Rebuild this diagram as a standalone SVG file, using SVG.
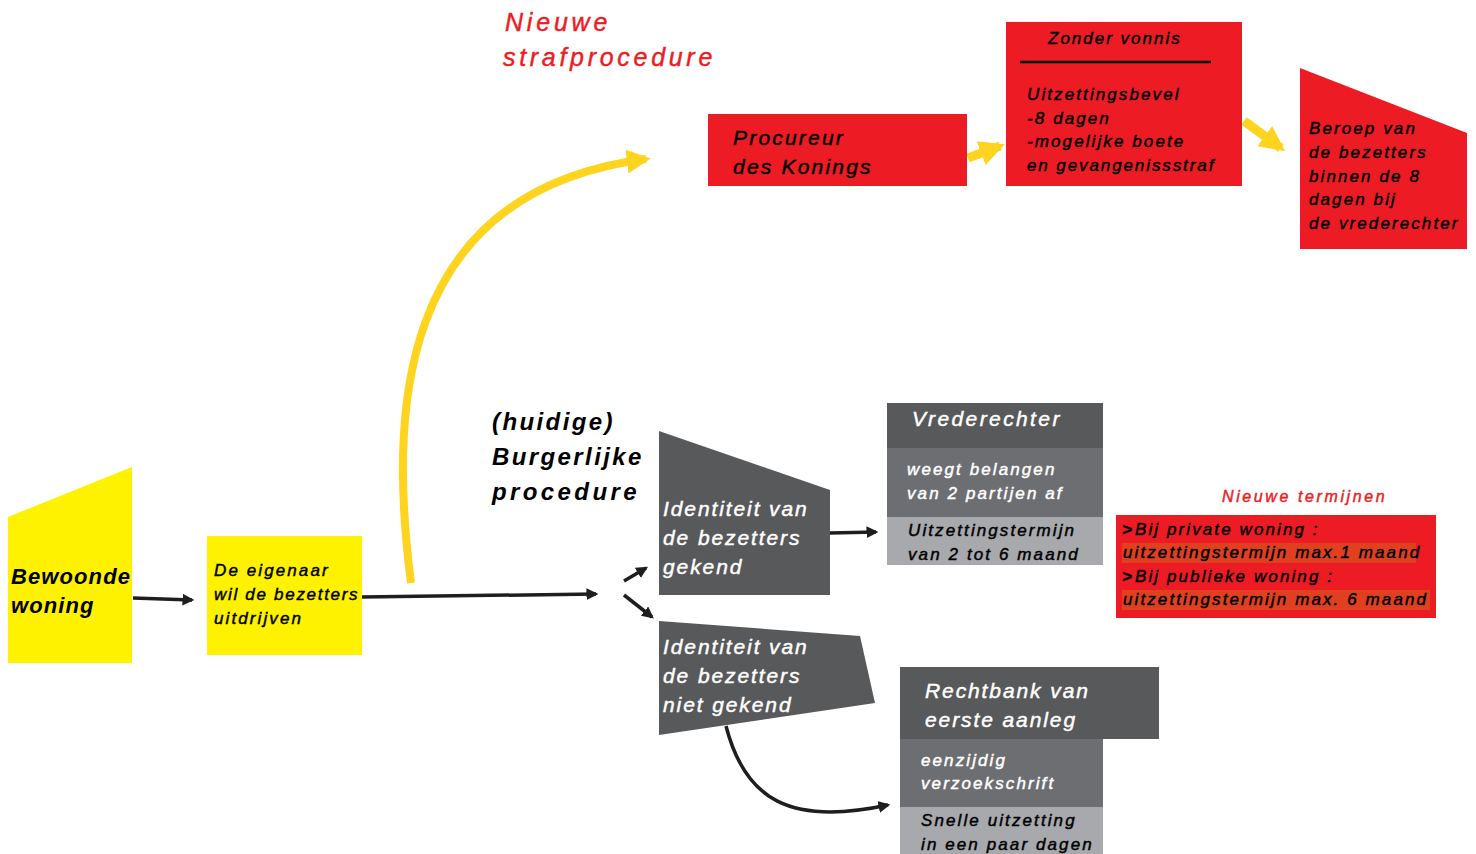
<svg xmlns="http://www.w3.org/2000/svg" width="1476" height="854" viewBox="0 0 1476 854">
<defs>
<style>
text{font-family:"Liberation Sans",Arial,sans-serif;font-style:italic;letter-spacing:2.1px;stroke-width:0.45px}
.b{fill:#000;stroke:#000}
.w{fill:#fff;stroke:#fff}
.r{fill:#ED1C24;stroke:#ED1C24}
.s17{font-size:17px}
.s21{font-size:21px;letter-spacing:1.9px}
.s24{font-size:24px;font-weight:bold;letter-spacing:2.4px;stroke-width:0}
.yel{fill:#FFF200}
.red{fill:#ED1C24}
.d1{fill:#58595B}
.d2{fill:#6D6E71}
.d3{fill:#A7A9AC}
.blk{stroke:#1E1E1E;stroke-width:3.5;fill:none}
.ycurve{stroke:#FFD41F;stroke-width:8;fill:none}
</style>
<marker id="ah" viewBox="0 0 10 10" refX="8" refY="5" markerWidth="3.4" markerHeight="3.4" orient="auto" markerUnits="strokeWidth">
<path d="M0,0 L10,5 L0,10 z" fill="#1E1E1E"/>
</marker>
<marker id="yah" viewBox="0 0 10 10" refX="8" refY="5" markerWidth="3" markerHeight="3" orient="auto" markerUnits="strokeWidth">
<path d="M0,0 L10,5 L0,10 z" fill="#FFD41F"/>
</marker>
<marker id="yah2" viewBox="0 0 10 10" refX="8" refY="5" markerWidth="2.8" markerHeight="3.2" orient="auto" markerUnits="strokeWidth">
<path d="M0,0 L10,5 L0,10 z" fill="#FFD41F"/>
</marker>
</defs>

<g id="title-straf">
<text x="505" y="31" class="r" style="font-size:25px;letter-spacing:3.8px">Nieuwe</text>
<text x="503" y="66" class="r" style="font-size:25px;letter-spacing:3.7px">strafprocedure</text>
</g>

<g id="title-burgerlijk">
<text x="492" y="430" class="b s24">(huidige)</text>
<text x="492" y="465" class="b s24">Burgerlijke</text>
<text x="492" y="500" class="b s24" style="letter-spacing:3.4px">procedure</text>
</g>

<g id="connectors">
<path class="blk" d="M133,598 L192,600" marker-end="url(#ah)"/>
<path class="blk" d="M362,597 L596,594" marker-end="url(#ah)"/>
<path class="blk" d="M624,581 L646,568" marker-end="url(#ah)"/>
<path class="blk" d="M624,595 L652,617" marker-end="url(#ah)"/>
<path class="blk" d="M830,533 L876,532" marker-end="url(#ah)"/>
<path class="blk" d="M726,726 C745,800 790,826 888,805" marker-end="url(#ah)"/>
<path class="ycurve" d="M411,583 C390,420 392,192 646,159" marker-end="url(#yah)"/>
<path class="ycurve" style="stroke-width:9" d="M968,158 L1000,146" marker-end="url(#yah2)"/>
<path class="ycurve" style="stroke-width:9" d="M1244,121 L1281,148" marker-end="url(#yah2)"/>
</g>

<g id="bewoonde-woning">
<polygon class="yel" points="8,517 132,467 132,663 8,663"/>
<text x="11" y="584" class="b" style="font-size:22px;font-weight:bold;letter-spacing:1.1px;stroke-width:0">Bewoonde</text>
<text x="11" y="613" class="b" style="font-size:22px;font-weight:bold;letter-spacing:1.1px;stroke-width:0">woning</text>
</g>

<g id="eigenaar">
<rect class="yel" x="207" y="536" width="155" height="119"/>
<text x="214" y="576" class="b s17">De eigenaar</text>
<text x="214" y="600" class="b s17" style="letter-spacing:1.7px">wil de bezetters</text>
<text x="214" y="624" class="b s17">uitdrijven</text>
</g>

<g id="procureur">
<rect class="red" x="708" y="114" width="259" height="72"/>
<text x="733" y="145" class="b s21" style="letter-spacing:2.2px">Procureur</text>
<text x="733" y="174" class="b s21" style="letter-spacing:2.2px">des Konings</text>
</g>

<g id="zonder-vonnis">
<rect class="red" x="1006" y="22" width="236" height="164"/>
<text x="1048" y="44" class="b s17" style="letter-spacing:2px">Zonder vonnis</text>
<line x1="1020" y1="62" x2="1211" y2="62" stroke="#000" stroke-width="2.5"/>
<text x="1027" y="100" class="b s17">Uitzettingsbevel</text>
<text x="1027" y="124" class="b s17">-8 dagen</text>
<text x="1027" y="147" class="b s17">-mogelijke boete</text>
<text x="1027" y="171" class="b s17" style="letter-spacing:1.9px">en gevangenissstraf</text>
</g>

<g id="beroep">
<polygon class="red" points="1300,68 1467,133 1467,249 1300,249"/>
<text x="1309" y="134" class="b s17">Beroep van</text>
<text x="1309" y="158" class="b s17">de bezetters</text>
<text x="1309" y="182" class="b s17">binnen de 8</text>
<text x="1309" y="205" class="b s17">dagen bij</text>
<text x="1309" y="229" class="b s17">de vrederechter</text>
</g>

<g id="identiteit-gekend">
<polygon class="d1" points="659,431 830,490 830,595 659,595"/>
<text x="663" y="516" class="w s21">Identiteit van</text>
<text x="663" y="545" class="w s21">de bezetters</text>
<text x="663" y="574" class="w s21">gekend</text>
</g>

<g id="identiteit-niet-gekend">
<polygon class="d1" points="659,621 860,636 875,703 659,735"/>
<text x="663" y="654" class="w s21">Identiteit van</text>
<text x="663" y="683" class="w s21">de bezetters</text>
<text x="663" y="712" class="w s21">niet gekend</text>
</g>

<g id="vrederechter">
<rect class="d1" x="887" y="403" width="216" height="45"/>
<rect class="d2" x="887" y="448" width="216" height="69"/>
<rect class="d3" x="887" y="517" width="216" height="48"/>
<text x="912" y="426" class="w s21" style="letter-spacing:2.4px">Vrederechter</text>
<text x="907" y="475" class="w s17">weegt belangen</text>
<text x="907" y="499" class="w s17">van 2 partijen af</text>
<text x="908" y="536" class="b s17">Uitzettingstermijn</text>
<text x="908" y="560" class="b s17">van 2 tot 6 maand</text>
</g>

<g id="nieuwe-termijnen">
<text x="1222" y="502" class="r" style="font-size:16px;letter-spacing:2.6px">Nieuwe termijnen</text>
<rect class="red" x="1116" y="515" width="320" height="103"/>
<rect x="1122" y="543" width="294" height="20" fill="#E04020"/>
<rect x="1122" y="590" width="308" height="20" fill="#E04020"/>
<text x="1122" y="535" class="b s17" style="font-weight:bold;letter-spacing:1px">&gt;</text>
<text x="1135" y="535" class="b s17">Bij private woning :</text>
<text x="1123" y="558" class="b s17">uitzettingstermijn max.1 maand</text>
<text x="1122" y="582" class="b s17" style="font-weight:bold;letter-spacing:1px">&gt;</text>
<text x="1135" y="582" class="b s17">Bij publieke woning :</text>
<text x="1123" y="605" class="b s17">uitzettingstermijn max. 6 maand</text>
</g>

<g id="rechtbank">
<rect class="d1" x="900" y="667" width="259" height="72"/>
<rect class="d2" x="900" y="739" width="203" height="68"/>
<rect class="d3" x="900" y="807" width="203" height="47"/>
<text x="925" y="698" class="w s21">Rechtbank van</text>
<text x="925" y="727" class="w s21">eerste aanleg</text>
<text x="921" y="766" class="w s17">eenzijdig</text>
<text x="921" y="789" class="w s17">verzoekschrift</text>
<text x="921" y="826" class="b s17">Snelle uitzetting</text>
<text x="921" y="850" class="b s17">in een paar dagen</text>
</g>
</svg>
